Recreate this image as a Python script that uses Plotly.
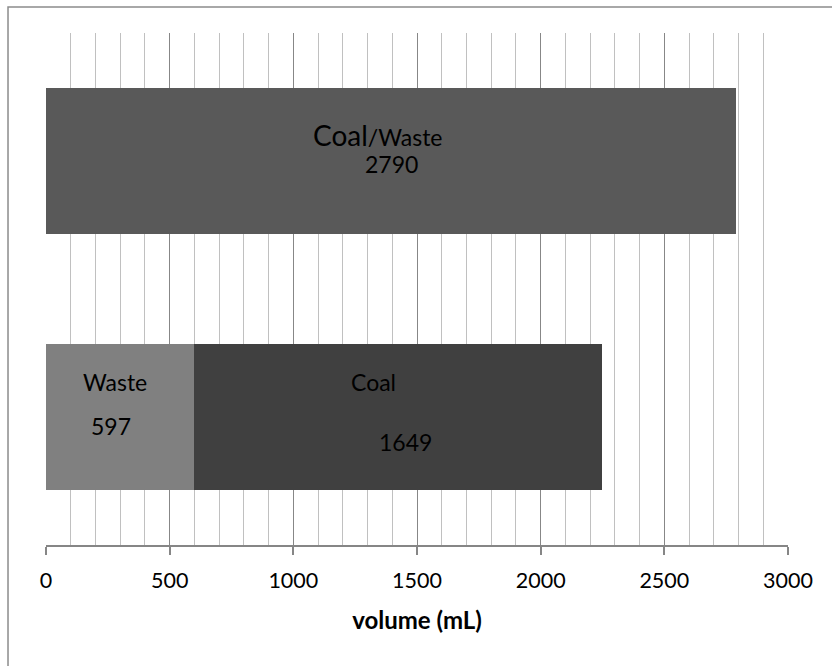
import plotly.graph_objects as go

# Categories (one stacked bar per row) and volumes in mL
categories = ["Coal + Waste", "Coal/Waste"]
mixed_volume = [None, 2790]
waste_volume = [597, None]
coal_volume = [1649, None]

tick_values = [0, 500, 1000, 1500, 2000, 2500, 3000]
axis_title = "volume (mL)"

FONT = "Lato, Carlito, Calibri, sans-serif"

fig = go.Figure()
fig.add_trace(go.Bar(y=categories, x=mixed_volume, orientation="h",
                     marker=dict(color="#595959", line=dict(width=0)), name="Coal/Waste"))
fig.add_trace(go.Bar(y=categories, x=waste_volume, orientation="h",
                     marker=dict(color="#808080", line=dict(width=0)), name="Waste"))
fig.add_trace(go.Bar(y=categories, x=coal_volume, orientation="h",
                     marker=dict(color="#404040", line=dict(width=0)), name="Coal"))

anno_font = dict(family=FONT, size=23, color="#000000")
waste = waste_volume[0]
coal = coal_volume[0]
mixed = mixed_volume[1]
annotations = [
    dict(x=mixed * 0.48, y=1.1, text="<span style='font-size:28px'>Coal</span>/Waste"),
    dict(x=mixed * 0.50, y=0.99, text=str(mixed)),
    dict(x=waste * 0.47, y=0.137, text="Waste"),
    dict(x=waste * 0.44, y=-0.035, text=str(waste)),
    dict(x=waste + coal * 0.44, y=0.137, text="Coal"),
    dict(x=waste + coal * 0.52, y=-0.098, text=str(coal)),
]
for a in annotations:
    a.update(xref="x", yref="y", showarrow=False, font=anno_font)

fig.update_layout(
    width=832, height=666,
    margin=dict(l=46, r=44, t=33, b=121),
    paper_bgcolor="white", plot_bgcolor="white",
    barmode="stack", bargap=0.43, showlegend=False,
    font=dict(family=FONT, color="#000000"),
    annotations=annotations,
    xaxis=dict(
        range=[0, 3000], tickvals=tick_values,
        tickfont=dict(family=FONT, size=21.5),
        showgrid=True, gridcolor="#878787", gridwidth=1,
        minor=dict(dtick=100, showgrid=True, gridcolor="#c0c0c0", gridwidth=1),
        showline=True, linecolor="#868686", linewidth=1.5,
        ticks="outside", ticklen=8, tickcolor="#868686", tickwidth=1.5,
        ticklabelstandoff=7,
        title=dict(text="<b>" + axis_title + "</b>", font=dict(family=FONT, size=24), standoff=21),
        zeroline=False,
    ),
    yaxis=dict(
        range=[-0.5, 1.5], showticklabels=False, showgrid=False,
        showline=False, zeroline=False, ticks="",
    ),
    shapes=[
        dict(type="rect", xref="paper", yref="paper",
             x0=-0.0512, x1=1.2, y0=-0.5, y1=1.0508,
             line=dict(color="#8c8c8c", width=1.5), fillcolor="rgba(0,0,0,0)", layer="below"),
    ],
)

fig.write_html("out.html")
